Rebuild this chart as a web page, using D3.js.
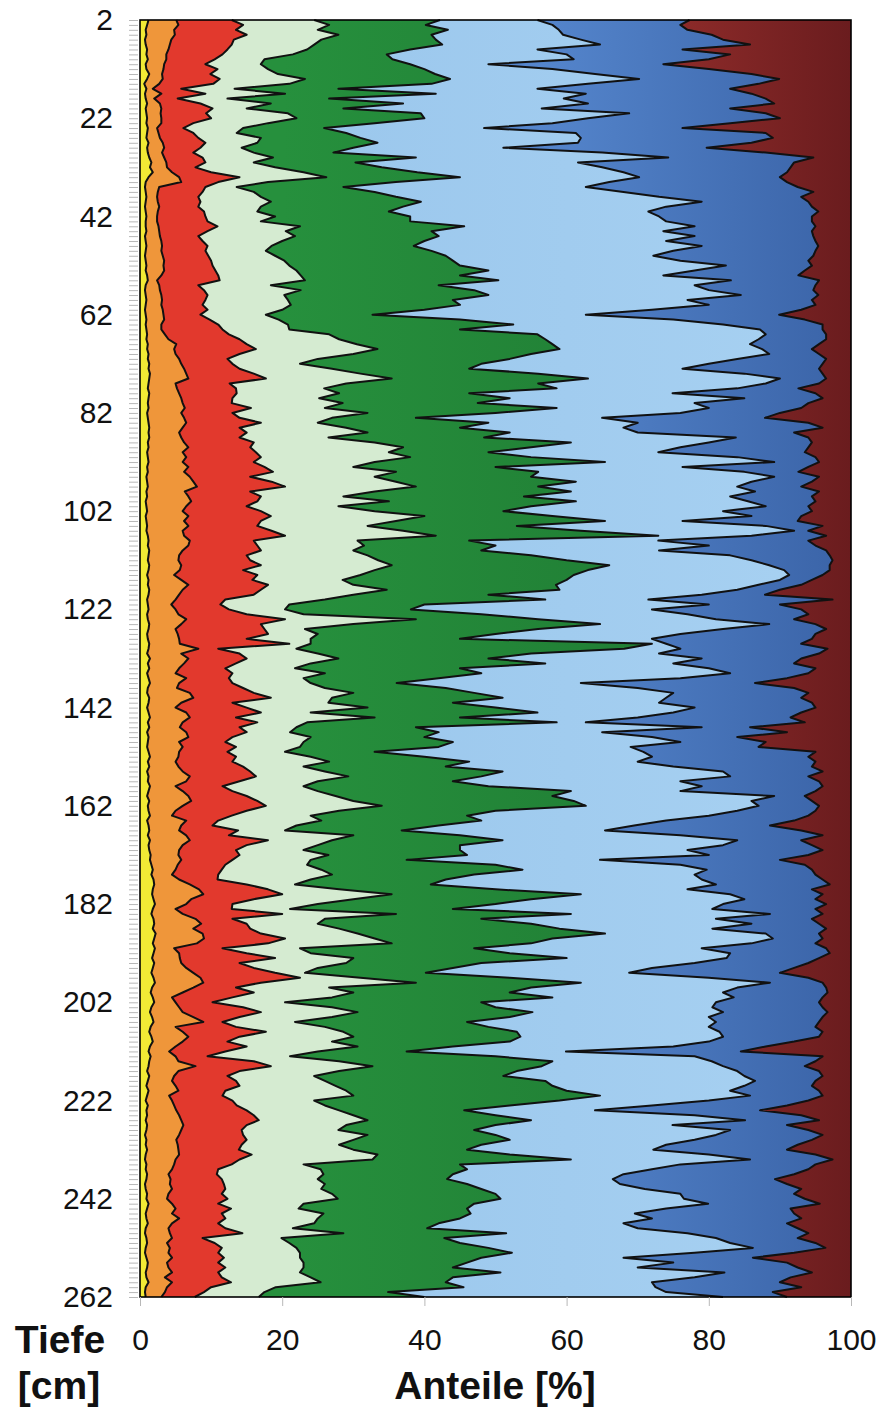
<!DOCTYPE html>
<html>
<head>
<meta charset="utf-8">
<script src="https://cdn.jsdelivr.net/npm/d3@7"></script>
<style>
  body { margin: 0; background: #fff; }
  svg text { font-family: "Liberation Sans", Arial, sans-serif; fill: #111; }
</style>
</head>
<body>
<script>
'use strict';

// sample depths in cm (one sample per cm)
const depths = d3.range(2, 263);

// upper edge of each band, cumulative percent
const yellowTop = [
  1.2,1.0,0.8,0.9,0.7,0.8,1.0,0.9,1.1,0.8,0.9,1.3,1.0,0.6,0.9,0.7,0.8,1.0,0.8,0.9,1.0,
  0.9,1.1,1.0,0.9,1.2,1.0,1.1,1.3,1.6,1.4,1.8,1.2,0.8,0.7,0.8,0.9,0.8,0.7,0.8,0.9,0.8,
  0.8,0.9,0.7,0.8,0.9,0.8,0.7,0.8,0.9,0.8,1.0,1.1,0.8,0.7,0.8,0.9,0.8,0.7,0.8,0.9,0.8,
  0.9,1.0,0.9,1.1,1.0,1.2,1.1,1.3,1.2,1.4,1.3,1.2,1.1,1.3,1.2,1.1,1.2,1.0,1.1,1.2,1.3,1.2,
  1.3,1.1,1.2,1.0,1.1,1.2,1.0,1.1,0.9,1.0,1.1,0.9,1.0,0.8,0.9,1.0,0.8,0.9,1.0,0.9,1.1,
  1.2,1.1,1.3,1.2,1.1,1.3,1.2,1.0,1.2,1.1,1.3,1.2,1.0,1.1,1.2,1.0,1.1,1.3,1.2,1.0,1.1,1.3,
  1.2,1.0,1.4,1.1,1.3,1.0,1.2,1.4,1.1,1.0,1.3,1.2,1.0,1.2,1.4,1.1,1.3,1.0,1.2,1.1,1.0,
  1.2,1.4,1.1,1.3,1.0,1.2,1.1,1.4,1.2,1.0,1.3,1.1,1.2,1.4,1.0,1.2,1.3,1.1,1.4,1.2,1.3,
  1.5,1.4,1.6,1.8,1.6,1.9,2.0,1.8,1.7,1.9,2.1,1.8,1.6,1.9,2.0,1.8,2.2,2.0,1.8,2.1,1.9,1.7,
  2.0,1.8,1.6,1.9,2.1,1.7,1.5,1.8,2.0,1.6,1.4,1.7,1.9,1.5,1.3,1.6,1.8,1.4,1.2,1.5,1.3,
  1.2,1.0,1.3,1.1,0.9,1.2,1.0,0.8,1.1,0.9,1.0,0.8,1.0,0.9,0.7,0.9,0.8,1.0,0.8,0.7,0.9,
  0.8,1.0,0.9,0.7,0.8,1.0,0.9,1.2,1.0,0.8,0.9,1.1,0.8,0.7,0.9,1.0,0.8,0.7,0.9,1.1,1.0,0.8,0.9,1.2,0.8,0.7,0.8
];

const orangeTop = [
  5.1,5.4,4.8,4.9,4.4,4.2,4.0,3.7,3.7,3.4,3.3,3.1,3.2,2.7,1.8,3.0,2.0,2.8,3.0,2.9,3.0,
  3.0,2.4,2.6,2.8,3.2,3.4,3.1,3.4,3.7,3.8,4.5,5.5,5.8,2.7,2.5,2.4,2.5,2.7,2.5,2.4,2.4,
  2.6,2.7,2.8,3.0,3.1,3.0,3.2,3.4,3.3,3.4,3.0,2.4,2.7,2.8,3.0,3.1,3.0,3.2,3.3,3.4,3.0,
  3.0,3.5,4.0,5.1,4.8,5.0,5.5,5.8,6.2,6.5,6.8,5.0,5.2,5.5,5.8,6.0,6.3,5.8,6.2,6.5,6.0,5.5,
  5.8,6.2,6.8,6.0,6.5,6.0,6.8,6.2,7.0,7.5,8.0,6.3,6.8,7.2,6.5,6.0,6.8,6.2,6.8,6.0,6.2,
  7.0,6.8,6.0,5.5,5.4,5.8,5.6,4.8,5.8,6.8,6.0,5.5,5.0,4.4,5.0,5.4,6.5,5.8,5.0,5.3,5.5,5.6,
  8.2,5.8,6.8,6.2,5.5,5.0,6.5,5.5,5.2,7.0,7.5,5.8,5.0,6.5,7.0,6.0,5.6,6.5,6.8,5.5,6.0,
  5.5,5.4,5.0,5.4,6.0,7.0,6.5,5.0,6.0,6.8,7.2,6.0,5.0,4.5,6.5,5.8,5.5,6.5,7.0,6.0,5.5,
  5.4,5.8,5.3,5.0,4.5,5.5,7.0,8.3,8.9,7.2,6.5,5.0,6.0,7.8,8.6,7.5,8.8,9.0,8.0,4.8,5.5,5.6,
  5.8,6.5,7.5,8.5,8.9,7.5,6.0,4.5,5.0,5.5,6.0,7.5,8.9,5.0,6.0,6.8,6.0,5.0,4.1,5.0,5.4,
  7.8,5.4,4.8,4.5,5.0,5.4,4.1,4.5,4.8,5.1,5.5,5.8,6.1,5.8,5.5,5.1,5.3,5.4,5.5,5.0,4.8,
  4.5,4.0,4.3,4.2,4.5,4.0,3.8,4.5,5.0,4.5,5.5,4.5,4.0,4.2,4.5,3.8,4.2,4.0,4.5,3.8,4.0,4.5,3.5,4.5,3.8,3.5,3.0
];

const redTop = [
  12.9,14.5,13.5,15.0,13.2,12.9,12.3,11.6,10.5,9.2,10.9,9.9,11.2,10.3,5.8,9.2,5.3,8.5,10.2,9.3,10.0,
  7.5,6.1,7.5,8.2,9.2,8.5,7.5,8.8,9.2,7.8,10.0,14.0,11.0,9.2,8.8,8.2,8.5,8.2,9.0,9.2,9.5,
  10.9,9.5,8.2,8.8,9.5,9.2,9.6,10.0,10.2,10.6,11.0,11.2,8.2,9.0,9.5,9.2,8.8,9.5,8.5,9.8,11.0,
  11.6,12.5,14.0,15.0,16.3,14.0,12.3,13.0,14.0,16.0,17.7,12.6,13.5,13.6,13.0,12.9,15.6,13.0,14.0,17.0,14.0,15.0,
  14.0,16.0,15.5,16.3,17.0,16.0,17.5,18.7,15.5,18.5,20.4,15.5,17.0,16.5,15.0,17.0,18.4,17.0,16.5,18.5,20.4,
  16.0,16.5,17.0,15.0,15.5,17.0,14.5,16.5,15.8,18.0,17.0,16.0,12.0,11.3,12.5,15.0,20.4,17.0,17.5,18.0,15.0,21.0,
  11.0,14.0,15.0,13.5,12.0,13.0,12.5,13.0,14.5,16.0,18.4,13.0,15.0,17.0,13.5,16.5,14.0,15.0,13.0,12.0,13.5,
  12.3,13.5,13.0,14.5,15.5,16.3,14.0,11.6,13.0,15.0,16.5,17.7,15.0,12.9,11.0,10.2,13.8,12.5,18.0,15.0,13.5,
  14.0,13.0,12.0,11.5,11.0,10.9,15.0,18.0,20.0,16.0,13.0,12.9,20.0,13.0,15.0,15.5,17.0,20.4,18.0,11.6,15.0,19.0,
  14.0,16.0,19.0,22.5,17.0,13.5,16.0,13.0,10.2,14.5,17.0,14.0,11.6,13.5,17.7,14.0,12.3,15.0,12.0,9.5,16.0,
  18.4,14.0,12.3,13.5,14.0,12.0,11.6,13.0,13.6,15.0,16.0,16.7,15.0,14.3,14.5,15.0,14.3,13.9,15.7,14.0,12.9,
  11.0,10.8,11.5,11.8,12.0,11.5,12.3,11.0,12.8,11.5,12.0,11.0,12.0,14.4,8.8,10.5,11.5,11.0,11.8,11.0,12.0,11.0,11.5,12.8,10.0,9.0,7.7
];

const paleTop = [
  24.5,26.6,25.0,27.9,25.5,24.5,23.5,21.5,17.5,17.0,18.0,19.4,23.2,21.0,13.3,20.4,12.3,18.4,15.0,20.8,22.0,
  18.0,14.5,13.6,17.0,16.5,14.3,16.0,18.7,16.0,19.0,23.0,26.2,18.0,13.6,16.0,17.0,18.4,17.0,16.5,19.0,17.0,
  22.5,20.5,21.8,20.0,18.5,17.7,19.0,20.3,21.0,22.0,22.6,23.2,18.4,22.6,20.3,20.8,21.2,20.0,17.7,19.5,20.8,
  21.0,26.6,28.0,30.5,33.4,30.0,25.0,22.5,27.0,31.0,35.4,29.0,25.9,28.0,25.2,28.5,26.0,32.0,27.0,25.0,29.0,32.0,
  26.5,33.0,37.0,35.0,38.0,33.0,30.0,36.0,33.0,36.0,38.8,33.0,28.6,35.0,27.9,33.0,40.0,36.0,32.0,37.0,41.6,
  30.6,31.5,30.0,32.0,33.5,35.4,33.0,31.0,28.5,30.0,34.7,30.0,26.0,21.0,20.4,23.0,38.8,30.0,23.2,25.0,24.0,24.0,
  22.0,25.0,27.9,24.0,21.8,26.0,23.0,24.0,26.0,30.0,27.0,26.5,32.0,24.0,33.0,23.5,22.0,21.1,24.0,23.0,22.5,
  20.4,24.0,26.6,23.0,26.0,29.3,25.0,23.0,25.0,27.5,30.0,34.0,28.0,24.0,25.5,22.0,20.4,30.0,27.0,25.0,23.0,
  26.5,24.0,23.5,25.5,27.0,24.0,21.8,28.0,35.4,30.0,25.0,21.1,36.0,26.0,25.0,28.0,30.6,33.0,35.4,22.5,24.0,30.0,
  29.0,25.0,23.2,31.0,38.8,26.6,30.0,27.0,20.4,27.0,30.6,27.0,21.8,26.0,28.6,30.0,27.0,30.6,25.0,21.1,28.0,
  32.7,28.0,24.5,26.0,27.5,29.0,30.0,24.5,26.0,28.0,30.0,32.0,29.0,27.9,32.0,30.0,28.0,30.0,33.4,32.7,23.0,
  25.4,25.8,25.0,26.0,25.5,27.0,27.8,23.0,22.3,25.8,25.0,24.5,21.5,28.6,19.9,21.0,22.0,22.5,22.5,23.0,23.0,22.5,24.0,25.4,19.1,17.5,16.7
];

const greenTop = [
  42.2,40.2,43.3,41.0,41.6,42.5,38.0,34.7,35.5,38.0,40.0,41.5,43.6,41.0,27.9,41.6,26.6,37.0,28.6,39.5,40.0,
  33.0,25.9,29.0,31.0,33.4,30.0,27.2,38.8,30.3,34.0,39.0,45.0,36.0,28.6,33.0,36.0,39.5,37.0,35.0,38.0,38.0,
  45.6,41.0,42.0,40.0,38.5,41.0,43.0,44.0,45.0,49.0,45.0,50.4,42.0,47.0,49.0,44.0,45.0,40.0,32.7,45.0,52.5,
  45.0,55.9,57.0,58.0,59.0,55.0,52.0,48.0,46.3,56.0,63.0,56.0,58.6,46.3,52.0,47.5,58.6,50.0,38.8,49.0,45.0,52.0,
  48.4,60.6,55.0,49.0,55.0,65.4,50.0,56.0,55.0,61.3,56.0,60.6,54.0,61.3,55.0,51.1,58.0,65.4,53.0,62.0,72.9,
  46.3,50.0,48.0,55.0,60.0,66.0,63.0,61.0,60.0,58.5,59.0,49.0,57.0,40.0,38.1,48.0,56.0,64.7,56.0,50.0,45.0,72.0,
  68.1,55.0,49.0,57.0,45.0,48.0,42.0,36.1,43.0,47.0,51.0,44.0,50.0,55.9,45.0,58.6,38.8,42.0,40.0,44.0,42.0,
  33.0,40.0,46.3,43.0,51.0,48.0,44.0,49.0,60.6,58.0,61.0,62.7,50.0,46.0,48.0,42.0,36.8,45.0,51.0,45.0,45.0,
  46.0,37.5,50.0,53.8,47.0,43.0,40.9,50.0,62.0,55.0,50.0,44.0,60.6,48.0,55.0,59.0,65.4,58.0,55.0,47.0,52.0,60.0,
  48.0,44.0,40.2,52.0,62.0,55.0,52.0,58.0,48.0,50.0,55.2,52.0,46.0,49.0,53.0,53.5,52.0,44.0,37.5,50.0,58.0,
  56.5,53.0,51.1,57.0,58.0,60.0,64.7,59.0,52.0,45.6,50.0,55.0,50.0,47.0,50.0,52.0,48.0,46.0,52.0,60.6,45.0,
  46.0,44.0,43.2,46.0,48.0,50.0,50.7,47.0,46.0,46.5,45.0,42.0,40.4,51.5,42.8,45.0,49.0,52.3,48.0,46.0,44.0,50.7,44.0,43.0,45.5,34.9,40.0
];

const lightBlueTop = [
  55.9,58.0,58.9,59.5,62.0,64.7,55.9,60.0,61.0,49.0,58.0,64.0,70.2,63.0,55.9,62.7,59.6,63.0,56.5,68.8,63.0,
  58.0,48.4,61.3,62.0,61.6,51.1,65.0,74.3,61.6,65.0,68.0,70.2,66.0,62.7,68.0,73.0,79.0,74.0,71.5,73.0,74.0,
  78.0,73.6,78.0,74.0,79.0,75.0,72.2,76.0,82.4,78.0,73.6,83.1,78.0,80.0,84.5,77.0,80.0,72.0,62.7,75.0,82.0,
  87.2,88.0,87.0,85.8,87.5,88.5,84.0,80.0,76.3,85.0,90.0,88.0,84.0,74.9,85.0,78.0,80.0,76.0,65.0,70.0,68.0,70.0,
  83.8,80.0,76.0,72.9,84.0,89.2,76.3,85.0,89.2,86.0,84.0,86.5,83.0,85.5,88.0,82.0,86.0,76.3,88.0,92.0,86.0,
  72.9,80.0,73.0,83.0,86.0,88.5,90.6,91.3,90.0,87.0,84.0,79.0,71.5,80.0,72.0,77.0,81.0,88.5,82.0,76.0,72.0,74.0,
  76.0,73.0,79.0,75.0,80.0,83.0,76.0,62.0,70.0,75.0,74.0,73.0,78.0,75.0,70.0,62.7,79.0,65.0,72.0,76.0,69.0,
  70.8,72.0,70.0,75.0,82.0,83.0,76.0,79.0,76.0,89.2,86.0,87.0,84.0,80.0,74.0,69.5,65.4,76.0,84.0,82.0,77.0,
  80.0,64.7,76.0,79.7,78.0,79.0,81.0,77.0,83.0,85.0,82.0,80.5,88.6,81.0,86.0,80.5,88.0,89.0,86.0,79.0,83.0,82.5,
  78.0,72.0,68.8,80.0,88.6,84.0,82.0,83.5,81.0,80.5,82.0,80.0,81.0,80.0,81.5,82.0,80.0,75.0,59.9,78.0,80.4,
  82.0,84.0,85.0,86.5,85.0,83.0,85.8,80.0,72.0,64.0,78.0,85.1,74.9,83.0,81.0,78.0,74.0,72.2,80.0,85.8,76.0,
  72.0,68.0,66.5,67.5,71.0,76.0,76.5,79.9,74.0,69.6,72.0,68.0,70.0,77.0,81.0,83.0,86.2,78.0,68.0,75.0,70.0,82.2,78.0,72.0,72.5,74.0,82.0
];

const blueTop = [
  77.3,76.0,77.0,80.4,82.0,85.8,76.3,83.0,80.0,73.6,80.0,86.0,89.9,87.0,83.0,86.0,88.0,89.2,83.0,88.0,90.0,
  83.0,76.3,88.0,89.0,86.0,79.7,88.0,94.7,92.0,91.5,91.0,90.0,91.0,92.5,94.7,93.0,94.0,94.5,95.4,94.5,94.5,
  95.0,94.5,94.7,95.0,95.4,95.0,94.7,94.0,94.5,93.5,92.6,95.5,95.0,94.7,95.4,94.5,95.0,93.0,89.9,93.5,96.0,
  96.0,96.5,96.5,95.5,94.5,95.5,96.5,96.0,95.5,96.0,96.5,95.5,92.6,95.0,96.0,94.0,93.0,90.0,87.9,94.0,96.0,92.0,
  94.0,94.5,94.0,93.5,95.0,95.5,94.0,92.6,95.5,94.5,93.0,95.5,94.5,95.0,94.0,94.5,93.0,92.5,96.0,94.0,96.5,
  94.0,95.0,96.5,97.0,97.4,97.0,97.0,96.0,94.5,93.0,90.0,87.9,97.4,90.0,93.0,94.0,92.0,95.0,96.5,95.0,94.5,93.0,
  96.7,95.5,93.0,92.0,95.0,94.0,91.0,86.5,92.0,94.0,93.0,94.5,95.0,93.0,91.5,93.5,85.8,91.0,84.0,88.0,87.0,
  95.0,94.0,95.0,94.5,96.0,94.0,95.5,96.0,95.0,93.5,94.5,95.5,95.0,94.0,92.0,88.6,93.0,96.0,93.0,94.5,96.0,
  94.0,90.0,93.5,94.5,95.0,96.0,97.0,94.5,96.0,95.0,96.5,95.0,96.0,94.5,95.5,96.5,95.5,96.0,95.0,96.5,97.0,95.5,
  94.0,92.0,90.0,94.0,96.0,96.5,96.7,96.0,95.5,96.0,96.7,96.0,95.5,95.0,96.0,95.5,92.0,88.0,84.5,96.0,95.0,
  93.5,95.5,96.0,95.0,94.5,95.5,96.0,94.0,91.0,87.2,93.0,95.5,91.0,94.0,96.0,94.5,92.5,91.0,95.0,97.4,95.0,
  94.0,92.0,89.3,91.0,93.0,92.0,93.5,95.6,91.5,92.0,93.0,91.0,92.5,94.0,92.5,95.0,96.4,92.0,86.2,91.0,92.5,94.5,91.5,90.0,93.0,89.0,91.0
];

const depthTicks = [2, 22, 42, 62, 82, 102, 122, 142, 162, 182, 202, 222, 242, 262];
const shareTicks = [0, 20, 40, 60, 80, 100];

const bandColors = ['#f2ea35', '#ef963a', '#e2392d', '#d5ebd1', 'url(#gGreen)',
                    'url(#gLightBlue)', 'url(#gBlue)', 'url(#gMaroon)'];

const width = 882, height = 1412;
const plot = { left: 140, right: 851, top: 20, bottom: 1297 };

const svg = d3.select('body').append('svg')
  .attr('width', width)
  .attr('height', height);

const x = d3.scaleLinear().domain([0, 100]).range([plot.left, plot.right]);
const y = d3.scaleLinear().domain([2, 262]).range([plot.top, plot.bottom]);

[yellowTop, orangeTop, redTop, paleTop, greenTop, lightBlueTop, blueTop].forEach((arr, i) => {
  if (arr.length !== depths.length) console.warn('series ' + i + ' has ' + arr.length + ' values');
});

// horizontal colour gradients for the darker bands
const defs = svg.append('defs');
function gradient(id, stops) {
  const g = defs.append('linearGradient')
    .attr('id', id)
    .attr('gradientUnits', 'userSpaceOnUse')
    .attr('x1', plot.left).attr('x2', plot.right)
    .attr('y1', 0).attr('y2', 0);
  stops.forEach(s => g.append('stop').attr('offset', s[0]).attr('stop-color', s[1]));
}
gradient('gGreen', [[0.2, '#26903d'], [0.7, '#217f35']]);
gradient('gLightBlue', [[0.3, '#9cc8ed'], [0.9, '#a6d0f1']]);
gradient('gBlue', [[0.55, '#5586cd'], [1, '#3a63a7']]);
gradient('gMaroon', [[0.72, '#922d2b'], [1, '#6a1c1e']]);

// band edges: 0, the seven cumulative series, 100
const edges = [depths.map(() => 0), yellowTop, orangeTop, redTop, paleTop,
               greenTop, lightBlueTop, blueTop, depths.map(() => 100)];

const area = d3.area()
  .y(d => y(d.depth))
  .x0(d => x(d.lo))
  .x1(d => x(d.hi));

const gBands = svg.append('g');
bandColors.forEach((color, k) => {
  const rows = depths.map((dp, i) => ({ depth: dp, lo: edges[k][i], hi: edges[k + 1][i] }));
  gBands.append('path')
    .datum(rows)
    .attr('fill', color)
    .attr('d', area);
});

// black outlines between the bands
const line = d3.line()
  .x(d => x(d.v))
  .y(d => y(d.depth));

edges.slice(1, 8).forEach(arr => {
  gBands.append('path')
    .datum(depths.map((dp, i) => ({ depth: dp, v: arr[i] })))
    .attr('fill', 'none')
    .attr('stroke', '#111')
    .attr('stroke-width', 2)
    .attr('stroke-linejoin', 'round')
    .attr('d', line);
});

// frame
svg.append('rect')
  .attr('x', plot.left).attr('y', plot.top)
  .attr('width', plot.right - plot.left)
  .attr('height', plot.bottom - plot.top)
  .attr('fill', 'none')
  .attr('stroke', '#000')
  .attr('stroke-width', 1.6);

// minor ticks every cm on the depth axis
svg.append('g')
  .attr('transform', 'translate(' + (plot.left - 2) + ',0)')
  .call(d3.axisLeft(y).tickValues(depths).tickSize(9).tickFormat(''))
  .call(g => g.select('.domain').remove())
  .call(g => g.selectAll('line').attr('stroke', '#b8b8b8'));

// depth labels
svg.append('g')
  .attr('transform', 'translate(' + plot.left + ',0)')
  .call(d3.axisLeft(y).tickValues(depthTicks).tickSize(0).tickPadding(27))
  .call(g => g.select('.domain').remove())
  .call(g => g.selectAll('text')
    .attr('font-size', 30)
    .attr('font-family', '"Liberation Sans", Arial, sans-serif')
    .attr('fill', '#111'));

// share axis
svg.append('g')
  .attr('transform', 'translate(0,' + plot.bottom + ')')
  .call(d3.axisBottom(x).tickValues(shareTicks).tickSize(9).tickPadding(23))
  .call(g => g.select('.domain').remove())
  .call(g => g.selectAll('line').attr('stroke', '#b8b8b8'))
  .call(g => g.selectAll('text')
    .attr('font-size', 30)
    .attr('font-family', '"Liberation Sans", Arial, sans-serif')
    .attr('fill', '#111'));

// axis titles
svg.append('text')
  .attr('x', 60).attr('y', 1353)
  .attr('text-anchor', 'middle')
  .style('font-size', '39px')
  .style('font-weight', 'bold')
  .text('Tiefe');

svg.append('text')
  .attr('x', 59).attr('y', 1399)
  .attr('text-anchor', 'middle')
  .style('font-size', '39px')
  .style('font-weight', 'bold')
  .text('[cm]');

svg.append('text')
  .attr('x', 495).attr('y', 1399)
  .attr('text-anchor', 'middle')
  .style('font-size', '39px')
  .style('font-weight', 'bold')
  .text('Anteile [%]');
</script>
</body>
</html>
